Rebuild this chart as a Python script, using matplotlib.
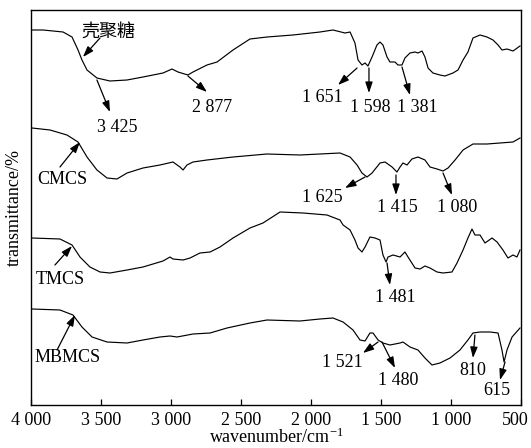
import matplotlib
matplotlib.use("Agg")
import matplotlib.pyplot as plt
from matplotlib.transforms import offset_copy

plt.rcParams['font.family'] = ['Liberation Serif', 'Noto Sans CJK SC', 'DejaVu Sans']
plt.rcParams['mathtext.fontset'] = 'custom'
plt.rcParams['mathtext.rm'] = 'Liberation Serif'
plt.rcParams['mathtext.it'] = 'Liberation Serif:italic'

# ---- data (wavenumber in cm^-1, transmittance in arbitrary offset units) ----
wn_cs = [3993, 3914, 3771, 3707, 3664, 3636, 3600, 3529, 3436, 3314, 3200, 3057, 2993, 2950,
         2879, 2843, 2743, 2671, 2557, 2436, 2314, 2129, 1936, 1843, 1757, 1721, 1686, 1664,
         1636, 1614, 1593, 1564, 1529, 1507, 1486, 1457, 1436, 1400, 1379, 1350, 1329, 1293,
         1257, 1236, 1207, 1186, 1164, 1129, 1079, 1043, 986, 950, 914, 879, 843, 793, 743,
         700, 664, 636, 600, 557, 507]
t_cs = [375, 375, 373, 368, 355, 345, 335, 327, 324, 325, 328, 332, 336, 333,
        330, 333, 340, 343, 355, 366, 368, 370, 373, 375, 372, 373, 362, 345,
        340, 342, 339, 348, 360, 363, 360, 348, 343, 343, 340, 340, 347, 352,
        353, 352, 354, 348, 337, 332, 330, 329, 332, 335, 345, 353, 367, 370, 368,
        365, 360, 355, 356, 354, 359]

wn_cmcs = [3993, 3864, 3743, 3664, 3600, 3529, 3457, 3386, 3314, 3200, 3079, 2986, 2936, 2914,
           2886, 2843, 2743, 2557, 2314, 2079, 1793, 1721, 1671, 1636, 1600, 1564, 1507, 1471,
           1421, 1386, 1364, 1343, 1314, 1279, 1236, 1186, 1150, 1100, 1057, 1021, 971, 914,
           843, 743, 650, 557, 507]
t_cmcs = [277, 275, 270, 263, 248, 235, 227, 226, 232, 237, 240, 243, 238, 235,
          240, 243, 245, 248, 251, 250, 252, 248, 240, 232, 228, 232, 242, 243,
          238, 233, 238, 242, 240, 246, 248, 245, 238, 236, 234, 237, 245, 255,
          261, 261, 262, 263, 267]

wn_tmcs = [3993, 3793, 3707, 3650, 3579, 3507, 3436, 3314, 3200, 3057, 3007, 2986, 2914, 2864,
           2793, 2721, 2650, 2557, 2436, 2343, 2221, 2057, 1886, 1793, 1771, 1721, 1686, 1664,
           1636, 1614, 1579, 1543, 1507, 1486, 1464, 1450, 1414, 1364, 1329, 1307, 1257, 1221,
           1186, 1150, 1100, 1057, 993, 957, 914, 879, 850, 829, 793, 757, 707, 671, 629, 593,
           557, 529, 507]
t_tmcs = [167, 166, 160, 148, 138, 133, 132, 135, 138, 144, 148, 146, 145, 147,
          152, 153, 158, 167, 177, 182, 193, 192, 190, 185, 180, 175, 165, 157,
          153, 158, 168, 167, 165, 150, 143, 148, 150, 148, 153, 148, 137, 136,
          139, 137, 133, 132, 133, 142, 155, 167, 176, 170, 170, 162, 167, 163, 155, 147,
          150, 148, 155]

wn_mbmcs = [3993, 3793, 3700, 3636, 3564, 3457, 3314, 3200, 3079, 3007, 2957, 2843, 2721, 2600,
            2436, 2314, 2079, 1936, 1843, 1771, 1700, 1650, 1614, 1579, 1557, 1521, 1486, 1436,
            1364, 1343, 1293, 1236, 1186, 1136, 1079, 1007, 936, 879, 843, 793, 721, 664, 636,
            621, 600, 564, 507]
t_mbmcs = [96, 95, 90, 78, 68, 63, 62, 65, 68, 69, 68, 71, 72, 77,
           82, 85, 84, 86, 87, 83, 75, 65, 64, 72, 72, 65, 62, 60,
           62, 63, 58, 55, 47, 40, 42, 47, 55, 65, 72, 73, 73, 72, 55,
           43, 55, 68, 77]

xticks = [4000, 3500, 3000, 2500, 2000, 1500, 1000, 500]
xtick_labels = ['4 000', '3 500', '3 000', '2 500', '2 000', '1 500', '1 000', '500']

series_names = ['壳聚糖', 'CMCS', 'TMCS', 'MBMCS']
peak_labels = ['3 425', '2 877', '1 651', '1 598', '1 381',
               '1 625', '1 415', '1 080', '1 481',
               '1 521', '1 480', '810', '615']

# ---- figure ----
fig = plt.figure(figsize=(5.31, 4.48), dpi=100)
ax = fig.add_axes([31/531, 43/448, 490/531, 395/448])

lw = 0.85
for wn, t in [(wn_cs, t_cs), (wn_cmcs, t_cmcs), (wn_tmcs, t_tmcs), (wn_mbmcs, t_mbmcs)]:
    ax.plot(wn, t, color='black', lw=lw)

ax.set_xlim(4000, 500)
ax.set_ylim(0, 395)
ax.set_xticks(xticks)
ax.set_xticklabels(xtick_labels, fontsize=13)
ax.set_yticks([])
ax.tick_params(axis='x', direction='in', length=4, width=0.9, pad=5, top=False)
for s in ax.spines.values():
    s.set_linewidth(1.0)

# nudge the last tick label inside the figure
last = ax.get_xticklabels()[-1]
last.set_transform(offset_copy(last.get_transform(), fig=fig, x=-6, y=0, units='dots'))

ax.set_xlabel('wavenumber/cm$^{-1}$', fontsize=13, labelpad=-1)
ax.set_ylabel('transmittance/%', fontsize=13, labelpad=6)

fs = 13
ap = dict(arrowstyle='-|>,head_length=0.65,head_width=0.22', color='black', lw=0.9,
          mutation_scale=10, shrinkA=0, shrinkB=0)

def arrow(x0, y0, x1, y1):
    ax.annotate('', xy=(x1, y1), xytext=(x0, y0), arrowprops=ap)

def label(x, y, s):
    ax.text(x, y, s, fontsize=fs, ha='center', va='center')

# series name labels (arrows point to curves)
label(3450, 373, series_names[0]); arrow(3507, 367, 3629, 348)
label(3779, 225, series_names[1]); arrow(3793, 238, 3650, 263)
label(3793, 125, series_names[2]); arrow(3829, 140, 3707, 159)
label(3736, 48, series_names[3]);  arrow(3814, 55, 3686, 90)

# peak labels (arrows point from curve to labels)
arrow(3529, 325, 3436, 293); label(3386, 277, peak_labels[0])
arrow(2879, 329, 2743, 313); label(2707, 298, peak_labels[1])
arrow(1671, 337, 1807, 320); label(1921, 308, peak_labels[2])
arrow(1586, 337, 1586, 312); label(1579, 298, peak_labels[3])
arrow(1350, 338, 1293, 310); label(1243, 298, peak_labels[4])

arrow(1614, 228, 1757, 217); label(1921, 208, peak_labels[5])
arrow(1393, 230, 1393, 210); label(1386, 198, peak_labels[6])
arrow(1057, 232, 993, 210);  label(957, 198, peak_labels[7])

arrow(1457, 142, 1436, 120); label(1400, 108, peak_labels[8])

arrow(1521, 63, 1629, 52);   label(1779, 43, peak_labels[9])
arrow(1493, 63, 1400, 37);   label(1379, 25, peak_labels[10])
arrow(829, 70, 843, 47);     label(843, 35, peak_labels[11])
arrow(614, 43, 650, 25);     label(671, 15, peak_labels[12])

fig.savefig('out.png', dpi=100)
